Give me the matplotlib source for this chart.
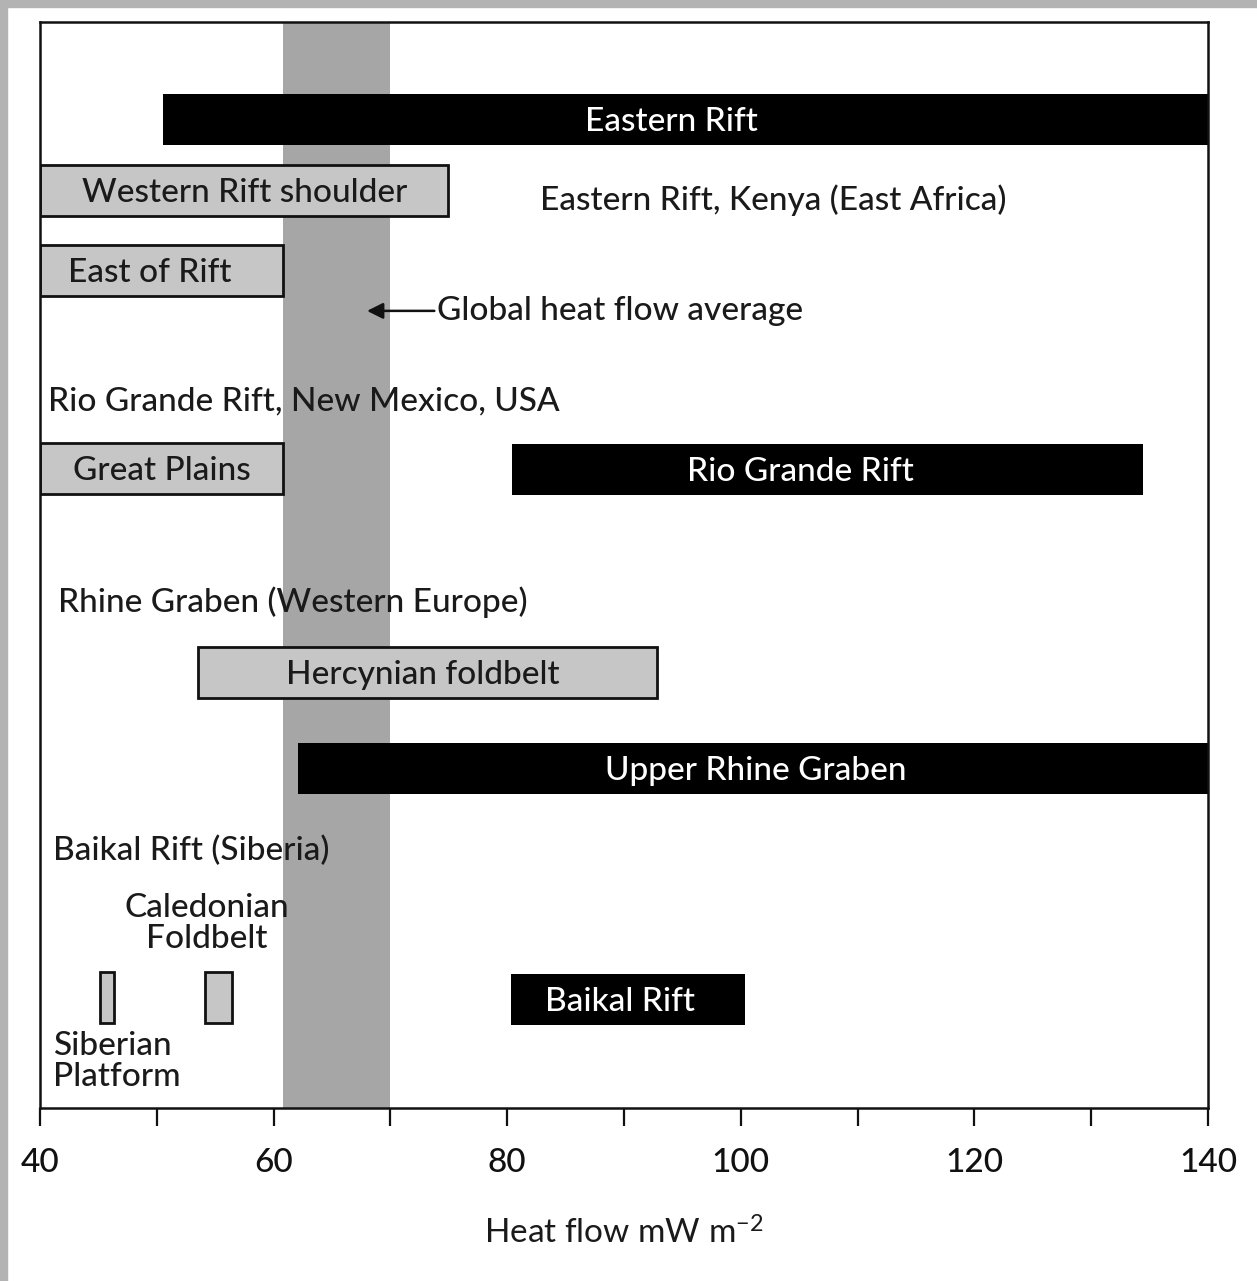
import matplotlib.pyplot as plt
from matplotlib.patches import Rectangle

plt.rcParams['font.family'] = ['Lato', 'DejaVu Sans']
plt.rcParams['font.weight'] = 'medium'
plt.rcParams['mathtext.fontset'] = 'custom'
plt.rcParams['mathtext.rm'] = 'Lato:medium'
plt.rcParams['mathtext.default'] = 'regular'

# bar data: heat flow ranges (mW m-2)
names = ['Eastern Rift', 'Western Rift shoulder', 'East of Rift', 'Great Plains',
         'Rio Grande Rift', 'Hercynian foldbelt', 'Upper Rhine Graben', 'Baikal Rift',
         'Siberian Platform', 'Caledonian Foldbelt']
lo = [50.5, 40.0, 40.0, 40.0, 80.4, 53.5, 62.1, 80.3, 45.1, 54.1]
hi = [140.0, 74.9, 60.8, 60.8, 134.4, 92.8, 140.0, 100.4, 46.3, 56.4]
rows = [9.0, 15.5, 22.9, 41.1, 41.2, 59.9, 68.7, 90.0, 89.8, 89.8]
rift = [True, False, False, False, True, False, True, True, False, False]
label_x = [94.1, 57.5, 49.4, 50.4, 105.1, 72.8, 101.3, 89.7, None, None]
global_avg = (60.8, 70.0)

fig = plt.figure(figsize=(12.57, 12.81), dpi=100)
fig.patch.set_facecolor('white')
# scanned page border
fig.add_artist(Rectangle((0, 1 - 7 / 1281), 1, 7 / 1281, transform=fig.transFigure,
                         color='#b3b3b3', zorder=0))
fig.add_artist(Rectangle((0, 0), 7 / 1257, 1, transform=fig.transFigure,
                         color='#b3b3b3', zorder=0))

ax = fig.add_axes([40 / 1257, 1 - 1108 / 1281, 1168 / 1257, 1086 / 1281])
ax.set_xlim(40, 140)
ax.set_ylim(100, 0)

ax.axvspan(global_avg[0], global_avg[1], color='#a6a6a6', lw=0, zorder=0)

fs = 24
for n, a, b, y, r, lx in zip(names, lo, hi, rows, rift, label_x):
    if r:
        ax.barh(y, b - a, left=a, height=4.7, color='black', zorder=2)
    else:
        ax.barh(y, b - a, left=a, height=4.7, color='#c6c6c6', edgecolor='#111111',
                lw=2, zorder=2)
    if lx is not None:
        ax.text(lx, y + 0.25, n, ha='center', va='center', fontsize=fs,
                color='white' if r else '#1a1a1a', zorder=3)

txt = dict(fontsize=fs, color='#1a1a1a', va='center', zorder=4)
ax.text(82.8, 16.4, 'Eastern Rift, Kenya (East Africa)', ha='left', **txt)
ax.text(40.7, 34.9, 'Rio Grande Rift, New Mexico, USA', ha='left', **txt)
ax.text(41.5, 53.4, 'Rhine Graben (Western Europe)', ha='left', **txt)
ax.text(41.1, 76.3, 'Baikal Rift (Siberia)', ha='left', **txt)
ax.text(54.3, 83.0, 'Caledonian\nFoldbelt', ha='center', linespacing=1.05, **txt)
ax.text(41.1, 95.7, 'Siberian\nPlatform', ha='left', linespacing=1.05, **txt)
ax.annotate('Global heat flow average', xy=(68.0, 26.6), xytext=(74.0, 26.6),
            ha='left', arrowprops=dict(arrowstyle='-|>', color='#111111', lw=1.8,
                                       mutation_scale=24, shrinkA=0, shrinkB=0), **txt)

for s in ax.spines.values():
    s.set_linewidth(1.8)
    s.set_color('#111111')
ax.set_yticks([])
ax.set_xticks(range(40, 141, 10))
ax.set_xticklabels([str(v) if v % 20 == 0 else '' for v in range(40, 141, 10)])
ax.tick_params(axis='x', direction='out', length=13, width=1.6, pad=16,
               labelsize=fs, colors='#111111')
ax.set_xlabel('Heat flow mW m$^{-2}$', fontsize=fs, color='#1a1a1a', labelpad=28)

fig.savefig('out.png', dpi=100, facecolor='white')
